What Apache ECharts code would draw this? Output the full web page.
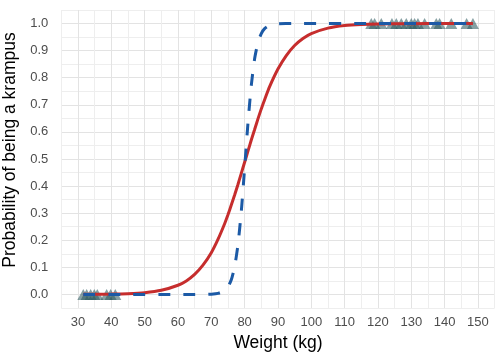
<!DOCTYPE html>
<html>
<head>
<meta charset="utf-8">
<script src="https://cdn.jsdelivr.net/npm/echarts@6/dist/echarts.min.js"></script>
<style>
html,body{margin:0;padding:0;background:#fff;}
#chart{width:504px;height:360px;}
</style>
</head>
<body>
<div id="chart"></div>
<script>
// Observed weights (kg): non-krampus (0) and krampus (1)
var lowWeights = [31.6, 32.6, 33.8, 34.9, 35.8, 38.6, 39.8, 41.2];
var highWeights = [118, 119, 121, 124.2, 125.5, 127, 128.5, 130, 131, 132, 134, 137.5, 138.5, 142, 146.6, 148.5];

// Curve x positions (kg)
var curveX = [31.6, 35, 40, 45, 50, 55, 60, 62.5, 65, 67.5, 70, 72, 74, 75, 76, 77, 78, 79, 80, 81, 82, 83, 84, 85, 86, 87.5, 90, 92.5, 95, 97.5, 100, 105, 110, 115, 120, 130, 140, 148.5];
// Red solid curve (probability)
var redCurve = [0.0003, 0.0006, 0.0013, 0.003, 0.0067, 0.0152, 0.034, 0.050, 0.074, 0.108, 0.154, 0.203, 0.261, 0.294, 0.330, 0.367, 0.406, 0.447, 0.488, 0.529, 0.570, 0.609, 0.648, 0.685, 0.719, 0.767, 0.832, 0.882, 0.919, 0.945, 0.963, 0.983, 0.9926, 0.9968, 0.9986, 0.9997, 1.0, 1.0];
// Blue dashed curve (probability)
var blueCurve = [0, 0, 0, 0, 0, 0, 0, 0, 0.00003, 0.0002, 0.001, 0.0038, 0.0145, 0.028, 0.054, 0.102, 0.183, 0.306, 0.466, 0.632, 0.772, 0.870, 0.930, 0.963, 0.981, 0.993, 0.9987, 0.9998, 1, 1, 1, 1, 1, 1, 1, 1, 1, 1];

var xTicks = [30, 40, 50, 60, 70, 80, 90, 100, 110, 120, 130, 140, 150];
var yTicks = ['0.0', '0.1', '0.2', '0.3', '0.4', '0.5', '0.6', '0.7', '0.8', '0.9', '1.0'];

var FONT = 'Liberation Sans, Arial, sans-serif';

var scatterData = lowWeights.map(function (w) { return [w, 0]; })
  .concat(highWeights.map(function (w) { return [w, 1]; }));
var redData = curveX.map(function (x, i) { return [x, redCurve[i]]; });
var blueData = curveX.map(function (x, i) { return [x, blueCurve[i]]; });

var chart = echarts.init(document.getElementById('chart'), null, {renderer: 'canvas'});
chart.setOption({
  animation: false,
  backgroundColor: '#ffffff',
  grid: {left: 61.3, right: 9.4, top: 10, bottom: 52, containLabel: false, outerBoundsMode: 'none'},
  xAxis: {
    type: 'value',
    min: 25, max: 155, interval: 5,
    name: 'Weight (kg)',
    nameLocation: 'middle',
    nameGap: 24,
    nameTextStyle: {fontFamily: FONT, fontSize: 17.5, color: '#000'},
    axisLine: {show: false},
    axisTick: {show: false},
    axisLabel: {
      interval: 0,
      margin: 8,
      fontFamily: FONT, fontSize: 13, color: '#4d4d4d',
      formatter: function (v) {
        var r = Math.round(v);
        return xTicks.indexOf(r) >= 0 && Math.abs(v - r) < 1e-6 ? String(r) : '';
      }
    },
    splitLine: {show: true, lineStyle: {color: ['#eeeeee', '#e3e3e3'], width: 1}}
  },
  yAxis: {
    type: 'value',
    min: -0.05, max: 1.05, interval: 0.05,
    name: 'Probability of being a krampus',
    nameLocation: 'middle',
    nameGap: 38,
    nameTextStyle: {fontFamily: FONT, fontSize: 17.5, color: '#000', padding: [0, 0, 0, 18]},
    axisLine: {show: false},
    axisTick: {show: false},
    axisLabel: {
      interval: 0,
      margin: 13,
      fontFamily: FONT, fontSize: 13, color: '#4d4d4d',
      formatter: function (v) {
        var k = Math.round(v * 100);
        if (k % 10 !== 0 || k < 0 || k > 100) return '';
        return yTicks[k / 10];
      }
    },
    splitLine: {show: true, lineStyle: {color: ['#eeeeee', '#e3e3e3'], width: 1}}
  },
  series: [
    {
      type: 'scatter',
      data: scatterData,
      symbol: 'triangle',
      symbolSize: [12, 11],
      itemStyle: {color: 'rgba(45,90,95,0.72)'},
      z: 2
    },
    {
      type: 'line',
      data: redData,
      showSymbol: false,
      smooth: 0.2,
      lineStyle: {color: '#c62d2d', width: 3},
      z: 3
    },
    {
      type: 'line',
      data: blueData,
      showSymbol: false,
      smooth: 0.2,
      lineStyle: {color: '#1c5aa6', width: 3, type: [12, 13]},
      z: 4
    }
  ]
});
</script>
</body>
</html>
